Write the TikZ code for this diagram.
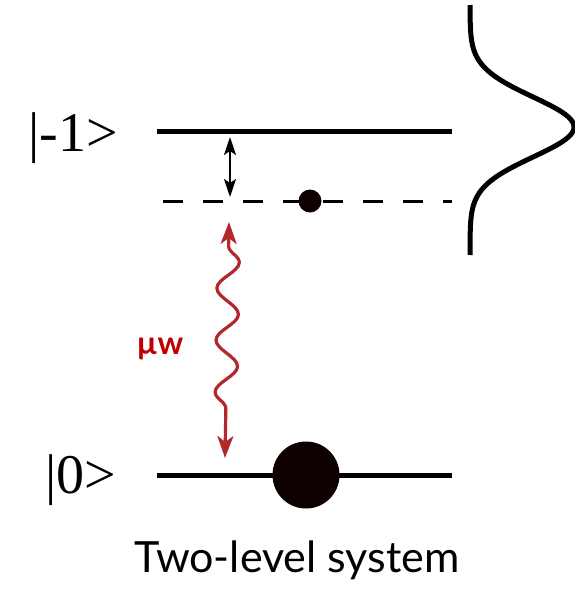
\documentclass[tikz,border=0pt]{standalone}
\usepackage{fontspec}
\setmainfont{Liberation Serif}
\newfontfamily\labelsans{Lato}
\usetikzlibrary{arrows.meta,decorations.pathmorphing}
\definecolor{mwred}{RGB}{178,40,45}
\definecolor{mwtext}{RGB}{192,0,0}
\tikzset{
  level/.style={line width=5pt},
  virtual/.style={line width=3pt, dash pattern=on 20pt off 20pt},
  ket/.style={font=\fontsize{56}{56}\selectfont, inner sep=0pt, anchor=base west},
  detuning/.style={line width=2pt, {Stealth[length=18pt,width=12pt,inset=4pt]}-{Stealth[length=18pt,width=12pt,inset=4pt]}},
  drive/.style={mwred, line width=3.2pt, {Stealth[length=22pt,width=16pt,inset=6pt]}-{Stealth[length=22pt,width=16pt,inset=6pt]},
    decorate, decoration={snake, amplitude=11pt, segment length=52pt, pre length=24pt, post length=24pt}},
  population/.style={fill=black!95!red}
}
\begin{document}
\begin{tikzpicture}[x=1pt,y=-1pt]
  \useasboundingbox (0,0) rectangle (575,603);
  % energy levels
  \coordinate (upL) at (157,131);
  \coordinate (upR) at (452,131);
  \coordinate (virL) at (163,201);
  \coordinate (virR) at (452,201);
  \coordinate (gndL) at (157,475);
  \coordinate (gndR) at (452,475);
  \draw[level] (upL) -- (upR);
  \draw[virtual] (virL) -- (virR);
  \draw[level] (gndL) -- (gndR);
  % populations
  \fill[population] (310,201) circle (11.5);
  \fill[population] (306,475) circle (33.5);
  % state labels
  \node[ket] (kup) at (28,151) {|-1>};
  \node[ket] (kgnd) at (45,493) {|0>};
  % detuning arrow
  \coordinate (dTop) at (230,137);
  \coordinate (dBot) at (230,197);
  \draw[detuning] (dTop) -- (dBot);
  % microwave drive
  \coordinate (mwTop) at (229,222);
  \coordinate (mwBot) at (225,458);
  \draw[drive] (mwTop) -- (mwBot);
  \node[mwtext, font=\labelsans\bfseries\fontsize{32}{32}\selectfont, inner sep=0pt] (mw) at (160,349) {µw};
  % line profile
  \draw[line width=5pt] plot[domain=5:255, samples=150, smooth] ({470+104*exp(-0.5*((\x-127)/30)^2)}, \x);
  % caption
  \node[font=\labelsans\fontsize{43}{43}\selectfont, inner sep=0pt, anchor=base] (cap) at (297,572) {Two-level system};
\end{tikzpicture}
\end{document}
